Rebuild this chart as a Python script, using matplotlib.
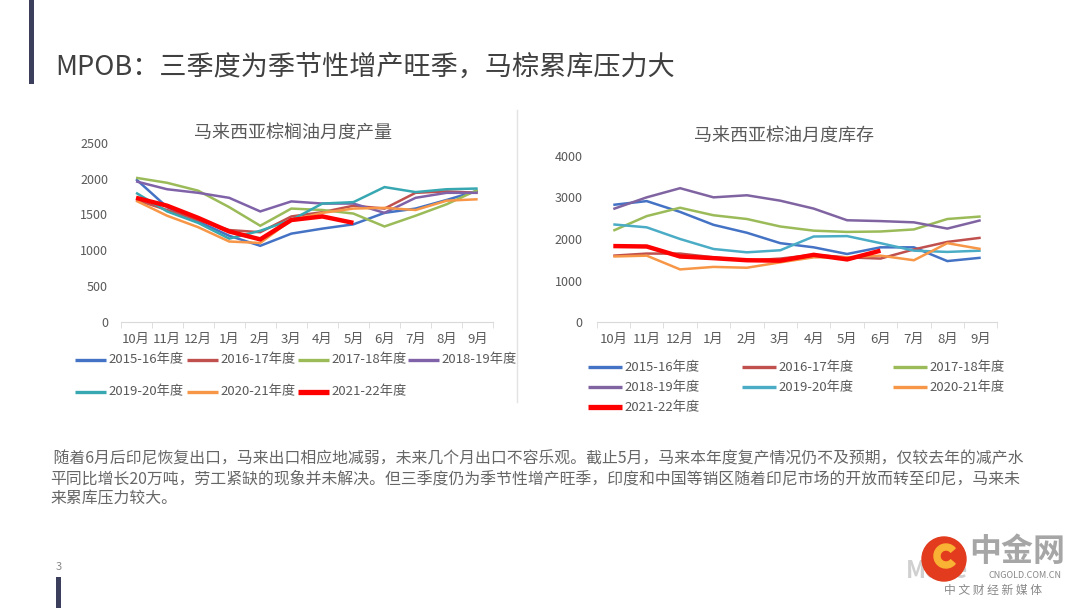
import matplotlib
matplotlib.use('Agg')
import matplotlib.pyplot as plt
from matplotlib.lines import Line2D
from matplotlib.patches import Circle, Rectangle, Wedge

plt.rcParams['font.family'] = ['Noto Sans CJK SC', 'DejaVu Sans']

months = ['10月', '11月', '12月', '1月', '2月', '3月', '4月', '5月', '6月', '7月', '8月', '9月']
seasons = ['2015-16年度', '2016-17年度', '2017-18年度', '2018-19年度',
           '2019-20年度', '2020-21年度', '2021-22年度']

# 马来西亚棕榈油月度产量 (千吨)
prod_1516 = [1990, 1600, 1400, 1200, 1060, 1230, 1300, 1360, 1520, 1580, 1700, 1830]
prod_1617 = [1700, 1560, 1420, 1280, 1250, 1470, 1530, 1620, 1580, 1800, 1820, 1800]
prod_1718 = [2010, 1940, 1830, 1600, 1340, 1580, 1560, 1510, 1330, 1480, 1640, 1840]
prod_1819 = [1960, 1850, 1800, 1730, 1540, 1680, 1650, 1650, 1520, 1730, 1800, 1800]
prod_1920 = [1800, 1540, 1380, 1160, 1270, 1420, 1650, 1670, 1880, 1810, 1850, 1860]
prod_2021 = [1690, 1480, 1320, 1120, 1100, 1420, 1520, 1580, 1590, 1560, 1690, 1710]
prod_2122 = [1730, 1620, 1450, 1260, 1150, 1420, 1470, 1380]

# 马来西亚棕油月度库存 (千吨)
stock_1516 = [2820, 2910, 2650, 2340, 2150, 1900, 1800, 1640, 1800, 1800, 1470, 1550]
stock_1617 = [1600, 1650, 1650, 1560, 1480, 1530, 1620, 1560, 1530, 1750, 1930, 2030]
stock_1718 = [2200, 2550, 2750, 2570, 2480, 2300, 2200, 2170, 2180, 2230, 2480, 2540]
stock_1819 = [2720, 3000, 3220, 3000, 3050, 2920, 2730, 2450, 2430, 2400, 2250, 2450]
stock_1920 = [2350, 2280, 2000, 1760, 1680, 1730, 2060, 2070, 1900, 1720, 1690, 1720]
stock_2021 = [1580, 1600, 1270, 1330, 1310, 1440, 1560, 1560, 1600, 1490, 1900, 1760]
stock_2122 = [1830, 1820, 1580, 1540, 1490, 1480, 1620, 1510, 1720]

prod = [prod_1516, prod_1617, prod_1718, prod_1819, prod_1920, prod_2021, prod_2122]
stock = [stock_1516, stock_1617, stock_1718, stock_1819, stock_1920, stock_2021, stock_2122]

colors_l = ['#4472C4', '#C0504D', '#9BBB59', '#7F62A8', '#37A7B2', '#F79646', '#FF0000']
colors_r = ['#4472C4', '#C0504D', '#9BBB59', '#8064A2', '#4BACC6', '#F79646', '#FF0000']
widths = [1.8, 1.8, 1.8, 1.8, 1.8, 1.8, 3.2]

W, H = 1080, 608
fig = plt.figure(figsize=(10.8, 6.08), dpi=100)
fig.patch.set_facecolor('white')


def fx(x):
    return x / W


def fy(y):
    return 1 - y / H


def box(l, t, r, b):
    return [fx(l), fy(b), (r - l) / W, (b - t) / H]


# page decorations
fig.add_artist(Rectangle((fx(29), fy(84)), 5 / W, 84 / H, transform=fig.transFigure,
                         color='#3B3F5C', lw=0))
fig.add_artist(Rectangle((fx(56), fy(608)), 5 / W, 31 / H, transform=fig.transFigure,
                         color='#3B3F5C', lw=0))
fig.text(fx(55), fy(67), 'MPOB：三季度为季节性增产旺季，马棕累库压力大', fontsize=19.5,
         color='#404040', va='center', ha='left')
fig.text(fx(56), fy(567), '3', fontsize=8, color='#888888', va='center', ha='left')
fig.add_artist(Line2D([fx(517), fx(517)], [fy(110), fy(402)], transform=fig.transFigure,
                      color='#E3E3E3', lw=1))


def draw_chart(rect, data, colors, ymax, ystep, title, title_xy, ypad):
    ax = fig.add_axes(rect)
    for vals, c, lw in zip(data, colors, widths):
        ax.plot(range(len(vals)), vals, color=c, lw=lw, solid_joinstyle='miter',
                solid_capstyle='butt')
    ax.set_xlim(-0.5, 11.5)
    ax.set_ylim(0, ymax)
    ax.set_yticks(range(0, ymax + 1, ystep))
    ax.set_xticks(range(12))
    ax.set_xticklabels(months)
    ax.set_xticks([i - 0.5 for i in range(13)], minor=True)
    for s in ['top', 'right', 'left']:
        ax.spines[s].set_visible(False)
    ax.spines['bottom'].set_color('#D9D9D9')
    ax.tick_params(axis='x', which='major', length=0, pad=8, labelsize=9.5,
                   labelcolor='#595959')
    ax.tick_params(axis='x', which='minor', length=4, color='#D9D9D9')
    ax.tick_params(axis='y', length=0, pad=ypad, labelsize=9, labelcolor='#595959')
    ax.patch.set_alpha(0)
    fig.text(fx(title_xy[0]), fy(title_xy[1]), title, fontsize=13, color='#595959',
             ha='center', va='center')
    return ax


draw_chart(box(120.5, 142.7, 493.2, 321.7), prod, colors_l, 2500, 500,
           '马来西亚棕榈油月度产量', (293, 133), 9)
draw_chart(box(596.6, 155.7, 997.4, 322.3), stock, colors_r, 4000, 1000,
           '马来西亚棕油月度库存', (784, 136), 10)


def legend_entry(x0, x1, y, c, lw, label):
    fig.add_artist(Line2D([fx(x0), fx(x1)], [fy(y), fy(y)], transform=fig.transFigure,
                          color=c, lw=lw + 0.6, solid_capstyle='butt'))
    fig.text(fx(x1 + 2), fy(y), label, fontsize=9.5, color='#595959', va='center',
             ha='left')


left_pos = [(75, 360), (187, 360), (298, 360), (408, 360), (75, 392), (187, 392), (298, 392)]
for (x0, y), c, lw, lab in zip(left_pos, colors_l, widths, seasons):
    legend_entry(x0, x0 + 31, y, c, lw, lab)

right_pos = [(588, 367), (742, 367), (893, 367), (588, 387), (742, 387), (893, 387), (588, 407)]
for (x0, y), c, lw, lab in zip(right_pos, colors_r, widths, seasons):
    legend_entry(x0, x0 + 34, y, c, lw, lab)

# body text
para = [' 随着6月后印尼恢复出口，马来出口相应地减弱，未来几个月出口不容乐观。截止5月，马来本年度复产情况仍不及预期，仅较去年的减产水',
        '平同比增长20万吨，劳工紧缺的现象并未解决。但三季度仍为季节性增产旺季，印度和中国等销区随着印尼市场的开放而转至印尼，马来未',
        '来累库压力较大。']
for i, line in enumerate(para):
    fig.text(fx(50), fy(459 + 20 * i), line, fontsize=11.4, color='#666666',
             va='center', ha='left')

# logo (drawn in inches so the circle stays round)
inch = fig.dpi_scale_trans
fig.text(fx(906), fy(571), 'Move', fontsize=17, color='#D0D0D0', style='italic',
         weight='bold', va='center', ha='left')
fig.add_artist(Circle((9.44, (H - 559) / 100), 0.22, transform=inch,
                      color='#E23B1E', zorder=5))
fig.add_artist(Wedge((9.46, (H - 556) / 100), 0.12, 40, 320, width=0.06,
                     transform=inch, color='#F9B233', zorder=6))
fig.text(fx(1017), fy(552), '中金网', fontsize=23, color='#A6A6A6', weight='bold',
         va='center', ha='center')
fig.text(fx(1025), fy(576), 'CNGOLD.COM.CN', fontsize=6.5, color='#888888',
         va='center', ha='center')
fig.text(fx(993), fy(590), '中 文 财 经 新 媒 体', fontsize=8.5, color='#888888',
         va='center', ha='center')

fig.savefig('out.png', dpi=100, facecolor='white')
